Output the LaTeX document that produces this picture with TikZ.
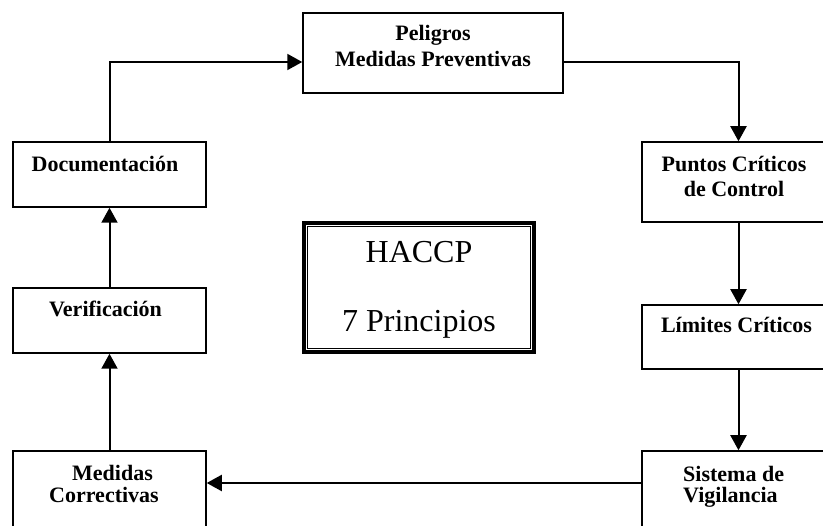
\documentclass[tikz,border=0pt]{standalone}
\usepackage{fontspec}
\setmainfont{Liberation Serif}
\usetikzlibrary{arrows.meta,calc}
\begin{document}
\begin{tikzpicture}[x=1pt,y=-1pt,
  box/.style={draw, line width=1.5pt, inner sep=0pt, minimum width=193pt},
  lbl/.style={anchor=base, inner sep=0pt, font=\fontsize{22}{25}\selectfont\bfseries},
  big/.style={anchor=base, inner sep=0pt, font=\fontsize{32}{36}\selectfont},
  conn/.style={line width=2pt, -{Triangle[width=16pt,length=15pt]}},
  plain/.style={line width=2pt}]
\useasboundingbox (0,0) rectangle (823,526);
\clip (0,0) rectangle (823,526);
% boxes
\node[box, minimum width=260pt, minimum height=80pt] (peli) at (433,53) {};
\node[box, minimum height=65pt] (doc) at (109.5,174.5) {};
\node[box, minimum height=80pt] (pcc) at (738.5,182) {};
\node[box, minimum height=65pt] (ver) at (109.5,320.5) {};
\node[box, minimum height=64pt] (lim) at (738.5,337) {};
\node[box, minimum height=80pt] (med) at (109.5,491) {};
\node[box, minimum height=80pt] (sis) at (738.5,491) {};
\node[draw, line width=4pt, inner sep=0pt, minimum width=230pt, minimum height=129pt] (haccp) at (419,287.5) {};
\draw[line width=1.3pt] ([shift={(5.5pt,-5.5pt)}]haccp.north west) rectangle ([shift={(-5.5pt,5.5pt)}]haccp.south east);
% texts
\node[lbl] (t1) at (433,41) {Peligros};
\node[lbl] (t2) at (433,67) {Medidas Preventivas};
\node[lbl] (t3) at (105,172) {Documentación};
\node[lbl] (t4) at (734,172) {Puntos Críticos};
\node[lbl] (t5) at (734,197) {de Control};
\node[lbl] (t6) at (105.5,317) {Verificación};
\node[lbl] (t7) at (736.5,333) {Límites Críticos};
\node[lbl] (t8) at (112.5,481) {Medidas};
\node[lbl] (t9) at (104,503) {Correctivas};
\node[lbl, anchor=base west] (t10) at (683,482) {Sistema de};
\node[lbl, anchor=base west] (t11) at (683,503) {Vigilancia};
\node[big] (h1) at (419,263) {HACCP};
\node[big] (h2) at (419,332) {7 Principios};
% connectors
\draw[conn] (doc.north) |- ([yshift=-9pt]peli.west);
\draw[conn] ([yshift=-9pt]peli.east) -| (pcc.north);
\draw[conn] (pcc.south) -- (lim.north);
\draw[conn] (lim.south) -- (sis.north);
\draw[conn] ([yshift=8pt]sis.west) -- ([yshift=8pt]med.east);
\draw[conn] (med.north) -- (ver.south);
\draw[conn] (ver.north) -- (doc.south);
\end{tikzpicture}
\end{document}
